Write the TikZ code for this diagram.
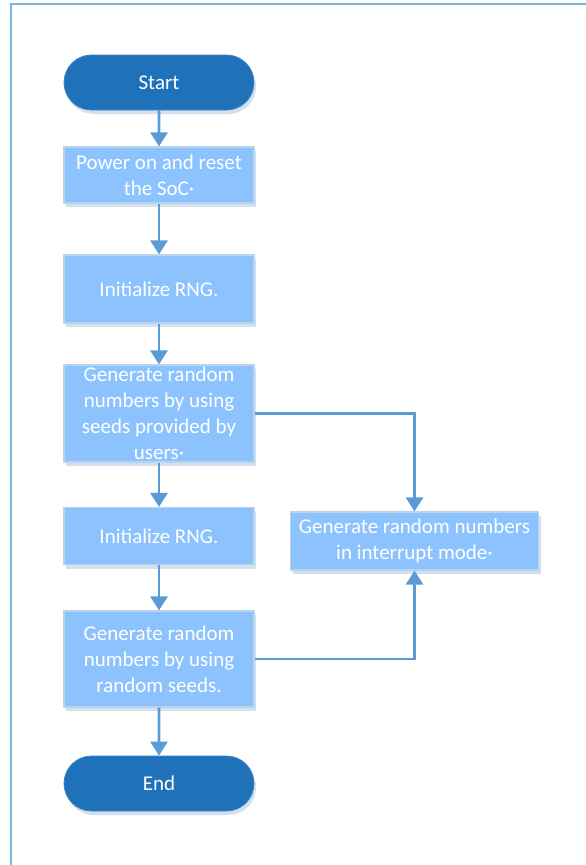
\documentclass[tikz,border=0pt]{standalone}
\usepackage{fontspec}
\setmainfont{Carlito}
\usetikzlibrary{arrows.meta,shapes.misc,shadows}
\definecolor{frameblue}{HTML}{7DB5E1}
\definecolor{termfill}{HTML}{1F72BA}
\definecolor{termdraw}{HTML}{3A86C8}
\definecolor{boxfill}{HTML}{8CC3FE}
\definecolor{boxdraw}{HTML}{B9D3EA}
\definecolor{shadowc}{HTML}{D3E0EE}
\definecolor{arrowc}{HTML}{5B9BD5}
\tikzset{
  base/.style={text=white, align=center, inner sep=0pt, font=\fontsize{21bp}{26bp}\selectfont,
    drop shadow={shadow xshift=2bp, shadow yshift=-4bp, fill=shadowc, opacity=1}},
  term/.style={base, rounded rectangle, fill=termfill, draw=termdraw, line width=0.8bp, minimum width=190bp, minimum height=55bp},
  procbox/.style={base, rectangle, fill=boxfill, draw=boxdraw, line width=1.2bp, minimum width=190bp},
  conn/.style={draw=arrowc, line width=2.8bp, -{Triangle[width=17bp,length=14bp]}},
}
\begin{document}
\begin{tikzpicture}[x=1bp,y=-1bp]
\useasboundingbox (0,0) rectangle (586,865);
\fill[white] (0,0) rectangle (586,865);
\draw[frameblue, line width=2.2bp] (11,865) -- (11,4) -- (586,4);

\node[term] (start) at (159,82.5) {Start};
\node[procbox, minimum height=56bp] (b1) at (159,175) {Power on and reset\\the SoC·};
\node[procbox, minimum height=68bp] (b2) at (159,289) {Initialize RNG.};
\node[procbox, minimum height=97bp] (b3) at (159,413.5) {Generate random\\numbers by using\\seeds provided by\\users·};
\node[procbox, minimum height=57bp] (b4) at (159,536) {Initialize RNG.};
\node[procbox, minimum height=58bp, minimum width=248bp] (b5) at (414.5,541) {Generate random numbers\\in interrupt mode·};
\node[procbox, minimum height=96bp] (b6) at (159,659) {Generate random\\numbers by using\\random seeds.};
\node[term] (end) at (159,783.5) {End};

\draw[conn] (start) -- (b1);
\draw[conn] (b1) -- (b2);
\draw[conn] (b2) -- (b3);
\draw[conn] (b3) -- (b4);
\draw[conn] (b4) -- (b6);
\draw[conn] (b6) -- (end);
\draw[conn] (b3.east) -| (b5.north);
\draw[conn] (b6.east) -| (b5.south);
\end{tikzpicture}
\end{document}
